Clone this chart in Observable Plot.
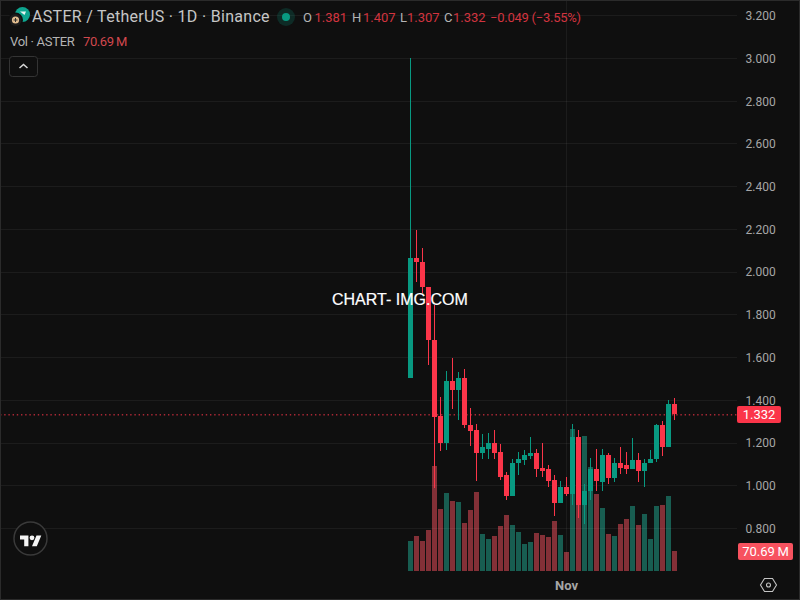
<!DOCTYPE html>
<html>
<head>
<meta charset="utf-8">
<script src="https://cdn.jsdelivr.net/npm/d3@7"></script>
<script src="https://cdn.jsdelivr.net/npm/@observablehq/plot@0.6"></script>
<style>
html,body{margin:0;padding:0;background:#0f0f0f;}
#chart{position:relative;width:800px;height:600px;overflow:hidden;background:#0f0f0f;font-family:Roboto,sans-serif;}
.layer{position:absolute;left:0;top:0;width:800px;height:600px;}
.t{position:absolute;white-space:pre;line-height:1;}
.tag{position:absolute;color:#fff;text-align:center;border-radius:2px;font-size:13px;line-height:17px;height:17px;}
#frame{position:absolute;inset:0;box-shadow:inset 0 0 0 1px #2b2b2b;pointer-events:none;}
</style>
</head>
<body>
<div id="chart"></div>
<script>
const startDate = "2025-10-06";
const opens  = [1.500,2.066,2.047,1.930,1.682,1.322,1.197,1.486,1.448,1.504,1.284,1.261,1.153,1.172,1.200,1.158,1.046,0.952,1.102,1.116,1.135,1.153,1.083,1.074,1.027,0.919,0.994,0.961,1.228,0.910,0.971,1.074,1.013,1.144,1.036,1.102,1.093,1.078,1.116,1.069,1.102,1.121,1.284,1.177,1.381];
const closes = [2.066,2.043,1.926,1.679,1.318,1.197,1.486,1.448,1.504,1.280,1.256,1.153,1.181,1.200,1.153,1.041,0.952,1.106,1.121,1.144,1.153,1.078,1.069,1.022,0.919,0.994,0.961,1.228,0.910,0.975,1.074,1.018,1.144,1.036,1.102,1.083,1.078,1.116,1.069,1.106,1.125,1.284,1.177,1.381,1.332];
const highs  = [3.000,2.193,2.113,1.930,1.846,1.415,1.537,1.598,1.532,1.542,1.364,1.289,1.238,1.247,1.261,1.195,1.064,1.121,1.158,1.163,1.224,1.172,1.200,1.097,1.050,1.018,1.041,1.289,1.261,1.004,1.130,1.172,1.172,1.153,1.130,1.177,1.158,1.219,1.153,1.125,1.163,1.289,1.303,1.401,1.407];
const lows   = [1.500,1.950,1.902,1.562,0.985,1.159,1.164,1.355,1.305,1.266,1.186,1.022,1.125,1.121,1.121,1.027,0.933,0.952,1.050,1.093,1.121,1.041,1.041,0.990,0.858,0.915,0.952,0.910,0.849,0.821,0.933,0.971,0.975,1.008,1.013,1.055,1.055,1.078,1.013,0.994,1.102,1.111,1.139,1.177,1.307];
const volumes = [106,124,106,145,371,219,276,247,244,170,216,279,131,113,124,159,198,163,138,95,102,134,127,120,177,127,67,502,445,477,368,272,223,131,124,166,184,230,163,201,113,230,233,265,70.69];
const priceTicks = [0.8,1.0,1.2,1.4,1.6,1.8,2.0,2.2,2.4,2.6,2.8,3.0,3.2];
const lastPrice = 1.332;
const lastVolumeLabel = "70.69\u2009M";
const monthTick = "2025-11-01";
const monthLabel = "Nov";
const titleText = "ASTER / TetherUS · 1D · Binance";
const volText = "Vol · ASTER";
const ohlcText = [["O","1.381"],["H","1.407"],["L","1.307"],["C","1.332"]];
const changeText = "−0.049 (−3.55%)";
const watermark = "CHART- IMG.COM";

const UP = "#089981", DOWN = "#fb3549";
const VUP = "rgba(34,171,148,.5)", VDOWN = "rgba(247,82,95,.5)";
const GRID = "rgba(242,242,242,.06)";

const dayMs = 864e5;
const t0 = Date.parse(startDate + "T00:00:00Z");
const candles = opens.map((o, i) => ({
  date: new Date(t0 + i * dayMs), open: o, close: closes[i], high: highs[i], low: lows[i], volume: volumes[i]
}));
const col = d => d.close >= d.open ? UP : DOWN;
const xDomain = [candles[0].date, candles[candles.length - 1].date];
const xRange = [410, 674];
const nov = new Date(monthTick + "T00:00:00Z");
const base = {width: 800, height: 600, marginLeft: 0, marginRight: 63, marginTop: 0, marginBottom: 29,
  style: {background: "transparent", color: "#a6a6a6", fontFamily: "Roboto, sans-serif", fontSize: "12px"}};

const volPlot = Plot.plot({...base,
  x: {type: "utc", domain: xDomain, range: xRange, axis: null},
  y: {domain: [0, 502], range: [571, 429], axis: null},
  marks: [
    Plot.ruleX(candles, {x: "date", y1: 0, y2: "volume", strokeWidth: 5, stroke: d => d.close >= d.open ? VUP : VDOWN, shapeRendering: "crispEdges"})
  ]
});

const mainPlot = Plot.plot({...base,
  x: {type: "utc", domain: xDomain, range: xRange, axis: null},
  y: {domain: [0.8, 3.2], range: [528, 15.3], axis: null},
  marks: [
    Plot.ruleY(priceTicks, {stroke: GRID, shapeRendering: "crispEdges"}),
    Plot.ruleX([nov], {stroke: GRID, shapeRendering: "crispEdges"}),
    Plot.axisY({anchor: "right", ticks: priceTicks, tickSize: 0, tickPadding: 8, tickFormat: d3.format(".3f"), label: null, fill: "#a6a6a6", dy: 0.5}),
    Plot.axisX({anchor: "bottom", ticks: [nov], tickSize: 0, tickPadding: 9, tickFormat: () => monthLabel, label: null, fontWeight: "bold", fontSize: 13, fill: "#a6a6a6"}),
    Plot.ruleY([lastPrice], {stroke: DOWN, strokeDasharray: "1.4 2.8"}),
    Plot.ruleX(candles, {x: "date", y1: "low", y2: "high", stroke: col, shapeRendering: "crispEdges"}),
    Plot.ruleX(candles, {x: "date", y1: "open", y2: "close", stroke: col, strokeWidth: 5, shapeRendering: "crispEdges"})
  ]
});

const chart = document.getElementById("chart");
for (const p of [volPlot, mainPlot]) {
  const d = document.createElement("div");
  d.className = "layer";
  d.append(p);
  chart.append(d);
}

function addText(txt, x, y, size, color, extra) {
  const s = document.createElement("span");
  s.className = "t";
  s.textContent = txt;
  s.style.cssText = `left:${x}px;top:${y}px;font-size:${size}px;color:${color};${extra || ""}`;
  chart.append(s);
  return s;
}
addText(titleText, 32, 9, 16, "#c6c6c6", "letter-spacing:.3px;");
addText(volText, 10, 35, 13, "#b4b4b4", "letter-spacing:-.3px;");
addText(lastVolumeLabel, 83, 35, 13, "#d2484e", "letter-spacing:-.4px;");
const ohlcX = [303, 352, 400, 444];
const ohlcValX = [314.5, 363, 407, 453];
ohlcText.forEach(([k, v], i) => {
  addText(k, ohlcX[i], 11, 13, "#b4b4b4");
  addText(v, ohlcValX[i], 11, 13, "#d2343f");
});
addText(changeText, 490, 11, 13, "#d2343f", "letter-spacing:-.25px;");

addText(watermark, 332, 292, 16, "#ffffff", "font-family:'Liberation Sans',sans-serif;-webkit-text-stroke:.2px #fff;");

function addTag(txt, left, width, centerY, bg) {
  const d = document.createElement("div");
  d.className = "tag";
  d.textContent = txt;
  d.style.cssText = `left:${left}px;width:${width}px;top:${Math.round(centerY - 8.5)}px;background:${bg};`;
  chart.append(d);
}
addTag(d3.format(".3f")(lastPrice), 737, 44, mainPlot.scale("y").apply(lastPrice), "#fb3549");
addTag(lastVolumeLabel, 738, 55, volPlot.scale("y").apply(volumes[volumes.length - 1]) + 0.5, "#f7525f");

const ns = "http://www.w3.org/2000/svg";
const icons = document.createElement("div");
icons.className = "layer";
icons.innerHTML = `<svg width="800" height="600" xmlns="${ns}">
  <circle cx="22.5" cy="14.5" r="7.5" fill="#0ea58f"/>
  <path d="M20 11.5h6l-1.5 3.5z" fill="#e8f5f2"/>
  <circle cx="15.5" cy="20" r="7.5" fill="#0f0f0f"/>
  <circle cx="15.5" cy="20" r="6" fill="#1d1d1d"/>
  <circle cx="15.5" cy="20" r="3.6" fill="#e2bd8f"/>
  <path d="M15.5 18v4M13.5 20h4" stroke="#333" stroke-width="1"/>
  <circle cx="286" cy="17" r="9" fill="rgba(8,153,129,.2)"/>
  <circle cx="286" cy="17" r="4" fill="#089981"/>
  <rect x="9.5" y="56.5" width="28" height="20" rx="3" fill="#0f0f0f" stroke="#343434"/>
  <path d="M19.5 68l4-3.5 4 3.5" fill="none" stroke="#d8d8d8" stroke-width="1.5"/>
  <circle cx="30.5" cy="538.5" r="16.5" fill="#0f0f0f" stroke="#3a3a3a" stroke-width="1.5"/>
  <g transform="translate(20,533) scale(0.6)" fill="#f4f4f4">
    <path d="M14 22H7V11H0V4h14v18zM28 22h-8l7.5-18h8L28 22z"/><circle cx="20" cy="8" r="4"/>
  </g>
  <path d="M764.5 578.5h8l4 6.5-4 6.5h-8l-4-6.5z" fill="none" stroke="#c4c4c4" stroke-width="1.1"/>
  <circle cx="768.5" cy="585" r="2" fill="none" stroke="#c4c4c4" stroke-width="1.1"/>
</svg>`;
chart.append(icons);

const frame = document.createElement("div");
frame.id = "frame";
chart.append(frame);
</script>
</body>
</html>
